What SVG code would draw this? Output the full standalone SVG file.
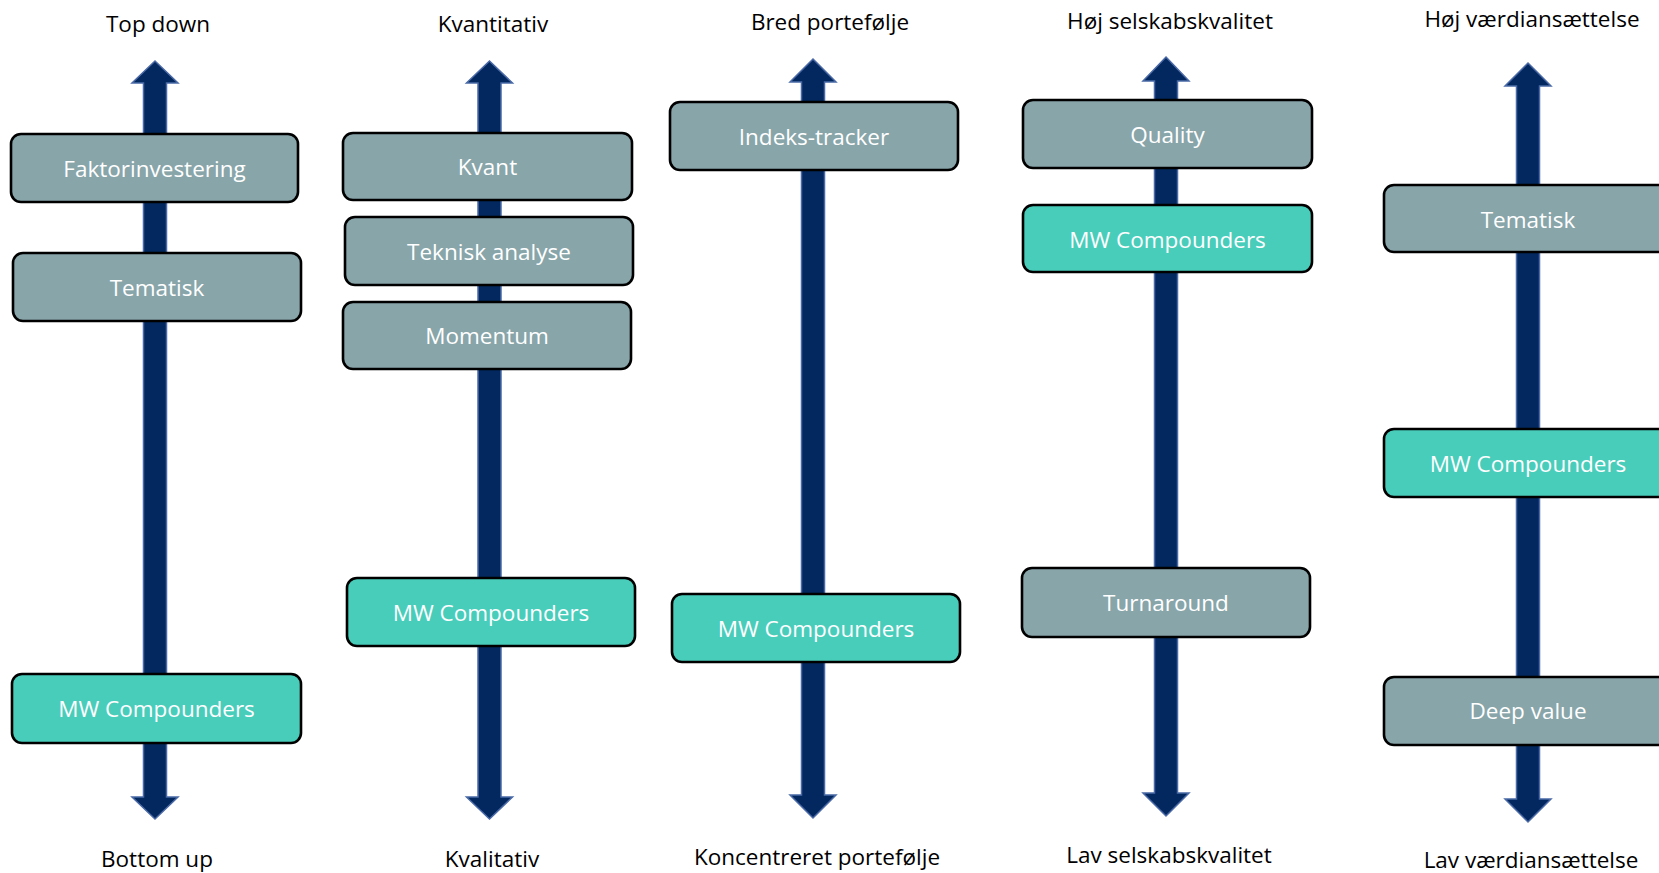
<svg xmlns="http://www.w3.org/2000/svg" width="1659" height="873" viewBox="0 0 1659 873">
<style>
.arrow{fill:#02285F;stroke:#4A69A6;stroke-width:1.5;stroke-linejoin:miter}
.box{stroke:#000;stroke-width:2.6}
.gray{fill:#88A5AA}
.teal{fill:#48CDBB}
.bt{font-family:"Open Sans","Liberation Sans",Arial,sans-serif;font-size:22.5px;fill:#FFFFFF;text-anchor:middle}
.lbl{font-family:"Open Sans","Liberation Sans",Arial,sans-serif;font-size:22.5px;fill:#000;text-anchor:middle}
</style>
<rect width="1659" height="873" fill="#FFFFFF"/>
<g id="connectors">
<polygon class="arrow" points="155,61 178,83 166.5,83 166.5,797 178,797 155,819 132,797 143.5,797 143.5,83 132,83"/>
<polygon class="arrow" points="489.5,61 512.5,83 501,83 501,797 512.5,797 489.5,819 466.5,797 478,797 478,83 466.5,83"/>
<polygon class="arrow" points="813,59 836,82 824.5,82 824.5,795 836,795 813,818 790,795 801.5,795 801.5,82 790,82"/>
<polygon class="arrow" points="1166,57 1189,81 1177.5,81 1177.5,793 1189,793 1166,816 1143,793 1154.5,793 1154.5,81 1143,81"/>
<polygon class="arrow" points="1528,63 1551,86 1539.5,86 1539.5,799 1551,799 1528,822 1505,799 1516.5,799 1516.5,86 1505,86"/>
</g>
<g id="labels">
<text class="lbl" x="158" y="32">Top down</text>
<text class="lbl" x="157" y="867">Bottom up</text>
<text class="lbl" x="493" y="32">Kvantitativ</text>
<text class="lbl" x="492" y="867">Kvalitativ</text>
<text class="lbl" x="830" y="30">Bred portefølje</text>
<text class="lbl" x="817" y="865">Koncentreret portefølje</text>
<text class="lbl" x="1170" y="29">Høj selskabskvalitet</text>
<text class="lbl" x="1169" y="863">Lav selskabskvalitet</text>
<text class="lbl" x="1532" y="27">Høj værdiansættelse</text>
<text class="lbl" x="1531" y="868">Lav værdiansættelse</text>
</g>
<g id="n-faktorinvestering"><rect class="box gray" x="11" y="134" width="287" height="68" rx="10"/><text class="bt" x="154.5" y="177">Faktorinvestering</text></g>
<g id="n-tematisk1"><rect class="box gray" x="13" y="253" width="288" height="68" rx="10"/><text class="bt" x="157" y="296">Tematisk</text></g>
<g id="n-mw1"><rect class="box teal" x="12" y="674" width="289" height="69" rx="10"/><text class="bt" x="156.5" y="717">MW Compounders</text></g>
<g id="n-kvant"><rect class="box gray" x="343" y="133" width="289" height="67" rx="10"/><text class="bt" x="487.5" y="175">Kvant</text></g>
<g id="n-teknisk"><rect class="box gray" x="345" y="217" width="288" height="68" rx="10"/><text class="bt" x="489" y="260">Teknisk analyse</text></g>
<g id="n-momentum"><rect class="box gray" x="343" y="302" width="288" height="67" rx="10"/><text class="bt" x="487" y="344">Momentum</text></g>
<g id="n-mw2"><rect class="box teal" x="347" y="578" width="288" height="68" rx="10"/><text class="bt" x="491" y="621">MW Compounders</text></g>
<g id="n-indeks"><rect class="box gray" x="670" y="102" width="288" height="68" rx="10"/><text class="bt" x="814" y="145">Indeks-tracker</text></g>
<g id="n-mw3"><rect class="box teal" x="672" y="594" width="288" height="68" rx="10"/><text class="bt" x="816" y="637">MW Compounders</text></g>
<g id="n-quality"><rect class="box gray" x="1023" y="100" width="289" height="68" rx="10"/><text class="bt" x="1167.5" y="143">Quality</text></g>
<g id="n-mw4"><rect class="box teal" x="1023" y="205" width="289" height="67" rx="10"/><text class="bt" x="1167.5" y="248">MW Compounders</text></g>
<g id="n-turnaround"><rect class="box gray" x="1022" y="568" width="288" height="69" rx="10"/><text class="bt" x="1166" y="611">Turnaround</text></g>
<g id="n-tematisk5"><rect class="box gray" x="1384" y="185" width="288" height="67" rx="10"/><text class="bt" x="1528" y="228">Tematisk</text></g>
<g id="n-mw5"><rect class="box teal" x="1384" y="429" width="288" height="68" rx="10"/><text class="bt" x="1528" y="472">MW Compounders</text></g>
<g id="n-deepvalue"><rect class="box gray" x="1384" y="677" width="288" height="68" rx="10"/><text class="bt" x="1528" y="719">Deep value</text></g>
</svg>
